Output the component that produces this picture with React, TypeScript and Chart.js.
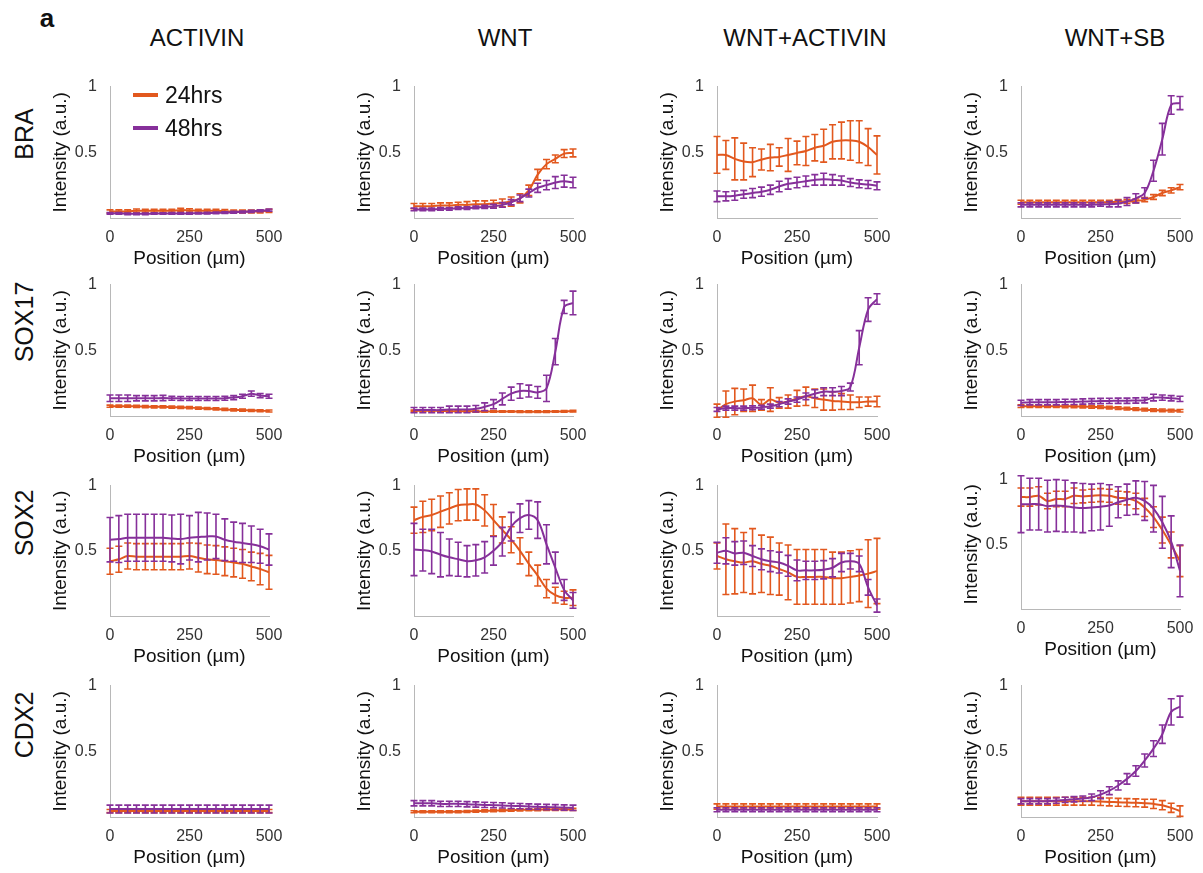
import React, { useEffect, useRef } from 'react';
import { Chart, registerables } from 'chart.js';

Chart.register(...registerables);

// ---------- categories / labels ----------
const POSITIONS = [0, 27.8, 55.6, 83.3, 111.1, 138.9, 166.7, 194.4, 222.2, 250, 277.8, 305.6, 333.3, 361.1, 388.9, 416.7, 444.4, 472.2, 500];
const GENES = ['BRA', 'SOX17', 'SOX2', 'CDX2'];
const CONDITIONS = ['ACTIVIN', 'WNT', 'WNT+ACTIVIN', 'WNT+SB'];
const SERIES_LABELS = ['24hrs', '48hrs'];
const X_TICKS = [0, 250, 500];
const Y_TICKS = [0.5, 1];

// ---------- BRA ----------
const BRA_ACT_24 = [0.05, 0.05, 0.05, 0.055, 0.055, 0.055, 0.055, 0.055, 0.06, 0.058, 0.055, 0.055, 0.055, 0.052, 0.05, 0.05, 0.05, 0.05, 0.055];
const BRA_ACT_24_E = [0.012, 0.012, 0.012, 0.013, 0.012, 0.012, 0.012, 0.012, 0.013, 0.012, 0.012, 0.012, 0.012, 0.012, 0.011, 0.011, 0.011, 0.011, 0.012];
const BRA_ACT_48 = [0.035, 0.035, 0.032, 0.032, 0.032, 0.034, 0.034, 0.035, 0.035, 0.035, 0.036, 0.037, 0.039, 0.041, 0.044, 0.046, 0.05, 0.055, 0.06];
const BRA_ACT_48_E = [0.006, 0.006, 0.006, 0.006, 0.006, 0.006, 0.006, 0.006, 0.006, 0.006, 0.006, 0.006, 0.007, 0.007, 0.007, 0.007, 0.008, 0.008, 0.008];
const BRA_WNT_24 = [0.09, 0.09, 0.09, 0.095, 0.095, 0.1, 0.1, 0.105, 0.105, 0.11, 0.115, 0.125, 0.15, 0.21, 0.33, 0.41, 0.45, 0.49, 0.495];
const BRA_WNT_24_E = [0.02, 0.02, 0.02, 0.02, 0.02, 0.02, 0.025, 0.025, 0.025, 0.025, 0.03, 0.035, 0.035, 0.04, 0.04, 0.035, 0.03, 0.03, 0.03];
const BRA_WNT_48 = [0.065, 0.065, 0.065, 0.07, 0.07, 0.075, 0.075, 0.08, 0.085, 0.09, 0.1, 0.12, 0.15, 0.19, 0.23, 0.25, 0.27, 0.28, 0.27];
const BRA_WNT_48_E = [0.01, 0.01, 0.01, 0.01, 0.01, 0.01, 0.01, 0.01, 0.012, 0.015, 0.018, 0.02, 0.025, 0.03, 0.035, 0.035, 0.045, 0.045, 0.04];
const BRA_WA_24 = [0.48, 0.48, 0.45, 0.43, 0.425, 0.445, 0.46, 0.465, 0.48, 0.495, 0.51, 0.535, 0.55, 0.58, 0.59, 0.59, 0.58, 0.54, 0.48];
const BRA_WA_24_E = [0.14, 0.11, 0.16, 0.14, 0.11, 0.08, 0.1, 0.07, 0.125, 0.09, 0.11, 0.1, 0.125, 0.13, 0.14, 0.15, 0.16, 0.14, 0.145];
const BRA_WA_48 = [0.165, 0.165, 0.17, 0.18, 0.19, 0.2, 0.215, 0.24, 0.26, 0.27, 0.28, 0.29, 0.295, 0.29, 0.285, 0.27, 0.26, 0.255, 0.245];
const BRA_WA_48_E = [0.04, 0.035, 0.035, 0.03, 0.035, 0.035, 0.035, 0.04, 0.04, 0.04, 0.04, 0.04, 0.045, 0.04, 0.035, 0.03, 0.03, 0.03, 0.03];
const BRA_SB_24 = [0.12, 0.12, 0.12, 0.12, 0.12, 0.12, 0.12, 0.12, 0.12, 0.12, 0.12, 0.125, 0.125, 0.13, 0.14, 0.16, 0.19, 0.21, 0.235];
const BRA_SB_24_E = [0.015, 0.015, 0.015, 0.015, 0.015, 0.015, 0.015, 0.015, 0.015, 0.015, 0.015, 0.015, 0.015, 0.015, 0.015, 0.018, 0.02, 0.02, 0.02];
const BRA_SB_48 = [0.1, 0.1, 0.1, 0.1, 0.1, 0.1, 0.1, 0.1, 0.1, 0.105, 0.105, 0.11, 0.125, 0.15, 0.19, 0.36, 0.6, 0.86, 0.875];
const BRA_SB_48_E = [0.015, 0.015, 0.015, 0.015, 0.015, 0.015, 0.015, 0.015, 0.015, 0.015, 0.02, 0.025, 0.03, 0.035, 0.04, 0.08, 0.12, 0.07, 0.05];

// ---------- SOX17 ----------
const SOX17_ACT_24 = [0.075, 0.075, 0.075, 0.074, 0.072, 0.07, 0.07, 0.068, 0.066, 0.064, 0.06, 0.057, 0.054, 0.05, 0.047, 0.044, 0.042, 0.04, 0.038];
const SOX17_ACT_24_E = [0.008, 0.008, 0.008, 0.008, 0.008, 0.008, 0.008, 0.008, 0.008, 0.008, 0.008, 0.008, 0.008, 0.008, 0.008, 0.008, 0.008, 0.008, 0.008];
const SOX17_ACT_48 = [0.135, 0.135, 0.135, 0.135, 0.135, 0.135, 0.137, 0.135, 0.133, 0.133, 0.133, 0.133, 0.133, 0.135, 0.14, 0.15, 0.17, 0.155, 0.15];
const SOX17_ACT_48_E = [0.025, 0.025, 0.025, 0.02, 0.02, 0.02, 0.02, 0.015, 0.015, 0.015, 0.015, 0.015, 0.015, 0.015, 0.015, 0.015, 0.02, 0.015, 0.015];
const SOX17_WNT_24 = [0.04, 0.04, 0.04, 0.038, 0.038, 0.036, 0.036, 0.035, 0.035, 0.035, 0.034, 0.034, 0.033, 0.033, 0.033, 0.033, 0.034, 0.035, 0.037];
const SOX17_WNT_24_E = [0.006, 0.006, 0.006, 0.006, 0.006, 0.006, 0.006, 0.006, 0.006, 0.006, 0.006, 0.006, 0.006, 0.006, 0.006, 0.006, 0.006, 0.006, 0.006];
const SOX17_WNT_48 = [0.045, 0.045, 0.045, 0.045, 0.05, 0.05, 0.05, 0.055, 0.07, 0.09, 0.13, 0.17, 0.19, 0.19, 0.18, 0.21, 0.49, 0.83, 0.86];
const SOX17_WNT_48_E = [0.02, 0.02, 0.02, 0.02, 0.025, 0.025, 0.025, 0.025, 0.03, 0.035, 0.045, 0.05, 0.055, 0.045, 0.045, 0.1, 0.1, 0.05, 0.09];
const SOX17_WA_24 = [0.04, 0.09, 0.11, 0.12, 0.135, 0.085, 0.125, 0.1, 0.11, 0.135, 0.15, 0.135, 0.125, 0.115, 0.11, 0.105, 0.105, 0.11, 0.11];
const SOX17_WA_24_E = [0.05, 0.1, 0.1, 0.085, 0.1, 0.04, 0.09, 0.04, 0.05, 0.06, 0.07, 0.07, 0.08, 0.07, 0.06, 0.055, 0.04, 0.035, 0.04];
const SOX17_WA_48 = [0.05, 0.06, 0.06, 0.06, 0.062, 0.067, 0.075, 0.09, 0.11, 0.125, 0.15, 0.17, 0.185, 0.185, 0.19, 0.22, 0.52, 0.81, 0.89];
const SOX17_WA_48_E = [0.015, 0.015, 0.015, 0.015, 0.015, 0.015, 0.015, 0.02, 0.02, 0.02, 0.025, 0.03, 0.03, 0.03, 0.035, 0.03, 0.13, 0.09, 0.04];
const SOX17_SB_24 = [0.075, 0.075, 0.075, 0.075, 0.075, 0.074, 0.073, 0.072, 0.07, 0.068, 0.064, 0.06, 0.056, 0.052, 0.048, 0.045, 0.043, 0.041, 0.04];
const SOX17_SB_24_E = [0.01, 0.01, 0.01, 0.01, 0.01, 0.01, 0.01, 0.01, 0.01, 0.01, 0.01, 0.01, 0.01, 0.01, 0.01, 0.01, 0.01, 0.01, 0.01];
const SOX17_SB_48 = [0.1, 0.105, 0.105, 0.105, 0.105, 0.107, 0.108, 0.11, 0.112, 0.114, 0.115, 0.116, 0.116, 0.118, 0.12, 0.14, 0.14, 0.135, 0.13];
const SOX17_SB_48_E = [0.02, 0.02, 0.02, 0.02, 0.02, 0.02, 0.02, 0.02, 0.02, 0.02, 0.02, 0.02, 0.02, 0.02, 0.02, 0.025, 0.02, 0.02, 0.02];

// ---------- SOX2 ----------
const SOX2_ACT_24 = [0.42, 0.435, 0.46, 0.455, 0.455, 0.455, 0.455, 0.455, 0.455, 0.46, 0.447, 0.435, 0.43, 0.42, 0.41, 0.4, 0.38, 0.36, 0.335];
const SOX2_ACT_24_E = [0.1, 0.1, 0.1, 0.1, 0.1, 0.1, 0.1, 0.1, 0.1, 0.1, 0.11, 0.11, 0.11, 0.11, 0.11, 0.11, 0.11, 0.12, 0.13];
const SOX2_ACT_48 = [0.585, 0.59, 0.6, 0.6, 0.6, 0.6, 0.6, 0.595, 0.59, 0.6, 0.605, 0.61, 0.61, 0.585, 0.57, 0.56, 0.55, 0.535, 0.51];
const SOX2_ACT_48_E = [0.17, 0.18, 0.18, 0.18, 0.18, 0.18, 0.18, 0.18, 0.19, 0.17, 0.19, 0.18, 0.17, 0.16, 0.15, 0.15, 0.14, 0.13, 0.12];
const SOX2_WNT_24 = [0.735, 0.76, 0.775, 0.8, 0.825, 0.85, 0.855, 0.855, 0.81, 0.735, 0.66, 0.585, 0.5, 0.4, 0.31, 0.21, 0.16, 0.14, 0.14];
const SOX2_WNT_24_E = [0.1, 0.12, 0.12, 0.12, 0.12, 0.12, 0.12, 0.12, 0.12, 0.12, 0.1, 0.1, 0.1, 0.09, 0.08, 0.07, 0.06, 0.05, 0.06];
const SOX2_WNT_48 = [0.51, 0.505, 0.495, 0.47, 0.45, 0.435, 0.42, 0.427, 0.45, 0.5, 0.57, 0.685, 0.75, 0.775, 0.735, 0.55, 0.37, 0.2, 0.12];
const SOX2_WNT_48_E = [0.2, 0.16, 0.17, 0.17, 0.14, 0.13, 0.12, 0.12, 0.12, 0.11, 0.11, 0.11, 0.11, 0.11, 0.14, 0.15, 0.12, 0.08, 0.06];
const SOX2_WA_24 = [0.46, 0.435, 0.42, 0.41, 0.42, 0.4, 0.385, 0.36, 0.335, 0.3, 0.3, 0.3, 0.3, 0.29, 0.29, 0.3, 0.31, 0.325, 0.345];
const SOX2_WA_24_E = [0.1, 0.27, 0.25, 0.23, 0.25, 0.22, 0.22, 0.2, 0.21, 0.21, 0.21, 0.21, 0.21, 0.2, 0.2, 0.2, 0.2, 0.26, 0.25];
const SOX2_WA_48 = [0.485, 0.5, 0.48, 0.485, 0.46, 0.435, 0.42, 0.41, 0.385, 0.35, 0.35, 0.35, 0.355, 0.37, 0.41, 0.42, 0.4, 0.22, 0.08];
const SOX2_WA_48_E = [0.08, 0.1, 0.09, 0.09, 0.08, 0.08, 0.08, 0.08, 0.08, 0.08, 0.07, 0.07, 0.07, 0.07, 0.07, 0.06, 0.06, 0.06, 0.05];
const SOX2_SB_24 = [0.865, 0.865, 0.875, 0.835, 0.85, 0.85, 0.875, 0.87, 0.875, 0.88, 0.875, 0.86, 0.855, 0.835, 0.785, 0.71, 0.61, 0.495, 0.37];
const SOX2_SB_24_E = [0.07, 0.07, 0.07, 0.06, 0.06, 0.06, 0.06, 0.05, 0.05, 0.05, 0.05, 0.05, 0.05, 0.06, 0.07, 0.08, 0.1, 0.1, 0.12];
const SOX2_SB_48 = [0.81, 0.81, 0.81, 0.795, 0.8, 0.795, 0.785, 0.78, 0.785, 0.79, 0.8, 0.825, 0.845, 0.86, 0.835, 0.775, 0.67, 0.52, 0.295];
const SOX2_SB_48_E = [0.22, 0.2, 0.2, 0.2, 0.2, 0.2, 0.19, 0.19, 0.18, 0.18, 0.16, 0.12, 0.12, 0.13, 0.15, 0.18, 0.2, 0.2, 0.2];

// ---------- CDX2 ----------
const CDX2_ACT_24 = [0.045, 0.045, 0.045, 0.045, 0.045, 0.045, 0.045, 0.045, 0.045, 0.045, 0.045, 0.045, 0.045, 0.045, 0.045, 0.045, 0.045, 0.045, 0.045];
const CDX2_ACT_24_E = [0.012, 0.012, 0.012, 0.012, 0.012, 0.012, 0.012, 0.012, 0.012, 0.012, 0.012, 0.012, 0.012, 0.012, 0.012, 0.012, 0.012, 0.012, 0.012];
const CDX2_ACT_48 = [0.06, 0.06, 0.06, 0.06, 0.06, 0.06, 0.06, 0.06, 0.06, 0.06, 0.06, 0.06, 0.06, 0.06, 0.06, 0.06, 0.06, 0.06, 0.06];
const CDX2_ACT_48_E = [0.03, 0.03, 0.03, 0.03, 0.03, 0.03, 0.03, 0.03, 0.03, 0.03, 0.03, 0.03, 0.03, 0.03, 0.03, 0.03, 0.03, 0.03, 0.03];
const CDX2_WNT_24 = [0.04, 0.04, 0.04, 0.04, 0.04, 0.04, 0.042, 0.044, 0.046, 0.048, 0.05, 0.052, 0.054, 0.055, 0.056, 0.057, 0.058, 0.058, 0.058];
const CDX2_WNT_24_E = [0.008, 0.008, 0.008, 0.008, 0.008, 0.008, 0.008, 0.008, 0.008, 0.008, 0.008, 0.008, 0.008, 0.008, 0.008, 0.008, 0.008, 0.008, 0.008];
const CDX2_WNT_48 = [0.105, 0.105, 0.105, 0.1, 0.1, 0.1, 0.097, 0.095, 0.092, 0.09, 0.088, 0.085, 0.083, 0.08, 0.078, 0.076, 0.074, 0.072, 0.07];
const CDX2_WNT_48_E = [0.02, 0.02, 0.02, 0.02, 0.02, 0.02, 0.02, 0.02, 0.02, 0.02, 0.02, 0.02, 0.02, 0.02, 0.02, 0.02, 0.02, 0.02, 0.02];
const CDX2_WA_24 = [0.08, 0.08, 0.08, 0.08, 0.08, 0.08, 0.08, 0.08, 0.08, 0.08, 0.08, 0.08, 0.08, 0.08, 0.08, 0.08, 0.08, 0.08, 0.08];
const CDX2_WA_24_E = [0.02, 0.02, 0.02, 0.02, 0.02, 0.02, 0.02, 0.02, 0.02, 0.02, 0.02, 0.02, 0.02, 0.02, 0.02, 0.02, 0.02, 0.02, 0.02];
const CDX2_WA_48 = [0.055, 0.055, 0.055, 0.055, 0.055, 0.055, 0.055, 0.055, 0.055, 0.055, 0.055, 0.055, 0.055, 0.055, 0.055, 0.055, 0.055, 0.055, 0.055];
const CDX2_WA_48_E = [0.015, 0.015, 0.015, 0.015, 0.015, 0.015, 0.015, 0.015, 0.015, 0.015, 0.015, 0.015, 0.015, 0.015, 0.015, 0.015, 0.015, 0.015, 0.015];
const CDX2_SB_24 = [0.12, 0.12, 0.12, 0.12, 0.12, 0.12, 0.12, 0.12, 0.12, 0.118, 0.115, 0.112, 0.11, 0.108, 0.105, 0.1, 0.09, 0.07, 0.045];
const CDX2_SB_24_E = [0.03, 0.03, 0.03, 0.03, 0.03, 0.03, 0.03, 0.03, 0.03, 0.03, 0.03, 0.03, 0.03, 0.03, 0.03, 0.035, 0.035, 0.035, 0.04];
const CDX2_SB_48 = [0.12, 0.12, 0.12, 0.12, 0.125, 0.13, 0.135, 0.14, 0.15, 0.17, 0.2, 0.24, 0.29, 0.35, 0.43, 0.52, 0.63, 0.8, 0.84];
const CDX2_SB_48_E = [0.02, 0.02, 0.02, 0.02, 0.02, 0.02, 0.02, 0.02, 0.025, 0.03, 0.03, 0.035, 0.04, 0.04, 0.05, 0.06, 0.07, 0.1, 0.08];

// panel table (row-major: gene x condition)
const PANELS = [
  [BRA_ACT_24, BRA_ACT_24_E, BRA_ACT_48, BRA_ACT_48_E],
  [BRA_WNT_24, BRA_WNT_24_E, BRA_WNT_48, BRA_WNT_48_E],
  [BRA_WA_24, BRA_WA_24_E, BRA_WA_48, BRA_WA_48_E],
  [BRA_SB_24, BRA_SB_24_E, BRA_SB_48, BRA_SB_48_E],
  [SOX17_ACT_24, SOX17_ACT_24_E, SOX17_ACT_48, SOX17_ACT_48_E],
  [SOX17_WNT_24, SOX17_WNT_24_E, SOX17_WNT_48, SOX17_WNT_48_E],
  [SOX17_WA_24, SOX17_WA_24_E, SOX17_WA_48, SOX17_WA_48_E],
  [SOX17_SB_24, SOX17_SB_24_E, SOX17_SB_48, SOX17_SB_48_E],
  [SOX2_ACT_24, SOX2_ACT_24_E, SOX2_ACT_48, SOX2_ACT_48_E],
  [SOX2_WNT_24, SOX2_WNT_24_E, SOX2_WNT_48, SOX2_WNT_48_E],
  [SOX2_WA_24, SOX2_WA_24_E, SOX2_WA_48, SOX2_WA_48_E],
  [SOX2_SB_24, SOX2_SB_24_E, SOX2_SB_48, SOX2_SB_48_E],
  [CDX2_ACT_24, CDX2_ACT_24_E, CDX2_ACT_48, CDX2_ACT_48_E],
  [CDX2_WNT_24, CDX2_WNT_24_E, CDX2_WNT_48, CDX2_WNT_48_E],
  [CDX2_WA_24, CDX2_WA_24_E, CDX2_WA_48, CDX2_WA_48_E],
  [CDX2_SB_24, CDX2_SB_24_E, CDX2_SB_48, CDX2_SB_48_E],
];

// ---------- style / layout ----------
const FONT = '"Liberation Sans", Arial, Helvetica, sans-serif';
const ORANGE = '#E2581E';
const PURPLE = '#86309A';
const AXIS_COLOR = '#b8b8b8';
const TICK_COLOR = '#333333';
const TITLE_COLOR = '#111111';

const COL_X = [[110, 269], [414, 573], [717, 877], [1021, 1180]];
const ROW_Y = [[84, 218], [282, 416], [483, 616], [683, 817]];
const LEFT_EXTRA = 62;
const RIGHT_EXTRA = 16;
const TOP_EXTRA = 12;
const BOTTOM_EXTRA = 52;

function panelBox(idx: number) {
  const r = Math.floor(idx / 4);
  const c = idx % 4;
  let [top, bottom] = ROW_Y[r];
  if (r === 2 && c === 3) { top = 477; bottom = 609; }
  const [left, right] = COL_X[c];
  return {
    left: left - LEFT_EXTRA,
    top: top - TOP_EXTRA,
    width: right - left + LEFT_EXTRA + RIGHT_EXTRA,
    height: bottom - top + TOP_EXTRA + BOTTOM_EXTRA,
  };
}

const errorBarPlugin = {
  id: 'errorBars',
  afterDatasetDraw(chart: any, args: any) {
    const ds = chart.data.datasets[args.index];
    const errs: number[] = ds.errors;
    if (!errs) return;
    const xs = chart.scales.x;
    const ys = chart.scales.y;
    const ctx = chart.ctx;
    ctx.save();
    ctx.strokeStyle = ds.borderColor;
    ctx.lineWidth = 1.6;
    ds.data.forEach((p: any, i: number) => {
      const x = xs.getPixelForValue(p.x);
      const yt = ys.getPixelForValue(p.y + errs[i]);
      const yb = ys.getPixelForValue(p.y - errs[i]);
      ctx.beginPath();
      ctx.moveTo(x, yt);
      ctx.lineTo(x, yb);
      ctx.moveTo(x - 3.5, yt);
      ctx.lineTo(x + 3.5, yt);
      ctx.moveTo(x - 3.5, yb);
      ctx.lineTo(x + 3.5, yb);
      ctx.stroke();
    });
    ctx.restore();
  },
};

function makeDataset(label: string, values: number[], errors: number[], color: string, order: number) {
  return {
    label,
    data: POSITIONS.map((x, i) => ({ x, y: values[i] })),
    errors,
    borderColor: color,
    backgroundColor: color,
    borderWidth: 2,
    pointRadius: 0,
    tension: 0.35,
    order,
  } as any;
}

export default function App() {
  const refs = useRef<(HTMLCanvasElement | null)[]>([]);

  useEffect(() => {
    const charts: Chart[] = [];
    PANELS.forEach((p, idx) => {
      const canvas = refs.current[idx];
      if (!canvas) return;
      const chart = new Chart(canvas, {
        type: 'line',
        data: {
          datasets: [
            makeDataset(SERIES_LABELS[0], p[0], p[1], ORANGE, 1),
            makeDataset(SERIES_LABELS[1], p[2], p[3], PURPLE, 0),
          ],
        },
        options: {
          animation: false,
          responsive: false,
          events: [],
          layout: { padding: { left: 0, right: RIGHT_EXTRA, top: TOP_EXTRA, bottom: 0 } },
          plugins: { legend: { display: false }, tooltip: { enabled: false } },
          scales: {
            x: {
              type: 'linear',
              min: 0,
              max: 500,
              afterBuildTicks: (s: any) => { s.ticks = X_TICKS.map((v) => ({ value: v })); },
              afterFit: (s: any) => { s.height = BOTTOM_EXTRA; },
              grid: { display: false },
              border: { display: true, color: AXIS_COLOR, width: 1 },
              ticks: { font: { family: FONT, size: 16 }, color: TICK_COLOR, padding: 2, maxRotation: 0, autoSkip: false, callback: (v: any) => String(v) },
              title: { display: true, text: 'Position (µm)', font: { family: FONT, size: 19 }, color: TITLE_COLOR, padding: { top: 0, bottom: 0 } },
            },
            y: {
              type: 'linear',
              min: 0,
              max: 1,
              afterBuildTicks: (s: any) => { s.ticks = Y_TICKS.map((v) => ({ value: v })); },
              afterFit: (s: any) => { s.width = LEFT_EXTRA; },
              grid: { display: false },
              border: { display: true, color: AXIS_COLOR, width: 1 },
              ticks: { font: { family: FONT, size: 16 }, color: TICK_COLOR, padding: 5, callback: (v: any) => String(v) },
              title: { display: true, text: 'Intensity (a.u.)', font: { family: FONT, size: 19 }, color: TITLE_COLOR, padding: { top: 1, bottom: 0 } },
            },
          },
        } as any,
        plugins: [errorBarPlugin],
      });
      charts.push(chart);
    });
    return () => charts.forEach((c) => c.destroy());
  }, []);

  const abs = (x: number, y: number, extra: any = {}) => ({
    position: 'absolute' as const,
    left: x,
    top: y,
    transform: 'translate(-50%, -50%)',
    whiteSpace: 'nowrap' as const,
    lineHeight: 1,
    color: '#111',
    ...extra,
  });

  const colCenters = [197, 505, 805, 1115];
  const rowCenters = [134, 322, 523, 725];

  return (
    <div style={{ position: 'absolute', left: 0, top: 0, width: 1203, height: 873, background: '#fff', fontFamily: FONT, overflow: 'hidden' }}>
      {PANELS.map((_, idx) => {
        const b = panelBox(idx);
        return (
          <canvas
            key={idx}
            ref={(el) => { refs.current[idx] = el; }}
            width={b.width}
            height={b.height}
            style={{ position: 'absolute', left: b.left, top: b.top, width: b.width, height: b.height }}
          />
        );
      })}
      <div style={abs(47, 18, { fontSize: 26, fontWeight: 'bold' })}>a</div>
      {CONDITIONS.map((c, i) => (
        <div key={c} style={abs(colCenters[i], 38, { fontSize: 24 })}>{c}</div>
      ))}
      {GENES.map((g, i) => (
        <div key={g} style={abs(24, rowCenters[i], { fontSize: 25, transform: 'translate(-50%, -50%) rotate(-90deg)' })}>{g}</div>
      ))}
      {SERIES_LABELS.map((s, i) => (
        <div key={s} style={{ position: 'absolute', left: 133, top: 95 + i * 33 - 12, height: 24, display: 'flex', alignItems: 'center' }}>
          <div style={{ width: 25, height: 4, background: i === 0 ? ORANGE : PURPLE, marginRight: 7 }} />
          <div style={{ fontSize: 23, color: '#111', lineHeight: 1 }}>{s}</div>
        </div>
      ))}
    </div>
  );
}
